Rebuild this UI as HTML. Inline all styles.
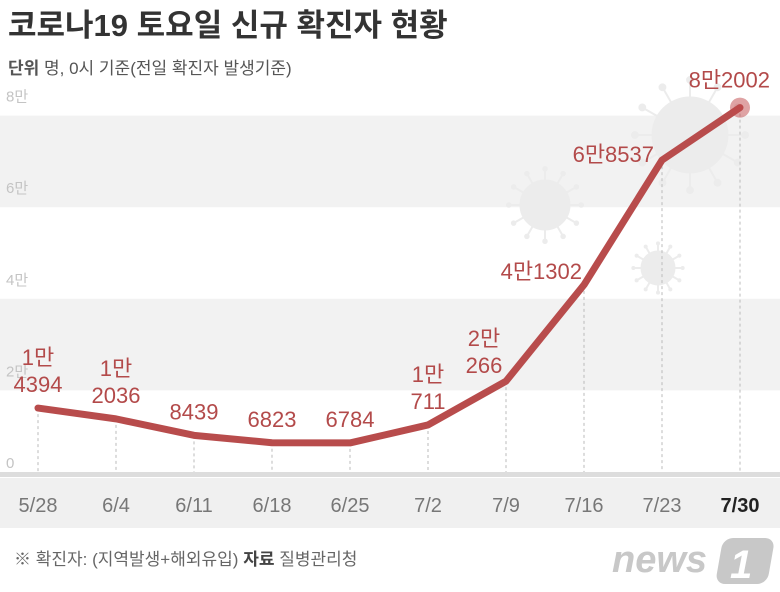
<!DOCTYPE html>
<html><head><meta charset="utf-8">
<style>
body{margin:0;background:#fff;}
svg{display:block;font-family:"Liberation Sans","Noto Sans CJK KR",sans-serif;}
</style></head><body>
<svg id="chart" width="780" height="592" viewBox="0 0 780 592">
<rect x="0" y="0" width="780" height="592" fill="#fff"/>
<text x="8" y="36" font-size="31" font-weight="bold" fill="#333">코로나19 토요일 신규 확진자 현황</text>
<text x="8" y="74" font-size="17" fill="#555"><tspan font-weight="bold">단위</tspan> 명, 0시 기준(전일 확진자 발생기준)</text>
<g id="bands"></g>
<g id="virus" fill="#ececec" stroke="#ececec"></g>
<g id="yaxis"></g>
<g id="grid"></g>
<rect x="0" y="472" width="780" height="5" fill="#ddd"/>
<rect x="0" y="478" width="780" height="50" fill="#f0f0f0"/>
<g id="xaxis"></g>
<g id="series"></g>
<text x="14" y="565" font-size="17" fill="#666">※ 확진자: (지역발생+해외유입) <tspan font-weight="bold" fill="#444">자료</tspan> 질병관리청</text>
<text x="612" y="572" font-size="38" font-weight="bold" font-style="italic" fill="#c8c8c8">news</text>
<rect x="718" y="538" width="52" height="46" rx="10" fill="#c8c8c8" transform="skewX(-10) translate(100,0)"/>
<text x="730" y="578" font-size="40" font-weight="bold" font-style="italic" fill="#fff">1</text>
</svg>
<script>
const categories=["5/28","6/4","6/11","6/18","6/25","7/2","7/9","7/16","7/23","7/30"];
const values=[14394,12036,8439,6823,6784,10711,20266,41302,68537,80002];
const valueLabels=[["1만","4394"],["1만","2036"],["8439"],["6823"],["6784"],["1만","711"],["2만","266"],["4만1302"],["6만8537"],["8만2002"]];
const yTicks=[0,20000,40000,60000,80000];
const yTickLabels=["0","2만","4만","6만","8만"];
const NS="http://www.w3.org/2000/svg";
const y=v=>474-v*91.6/20000;
const x=i=>38+i*78;
function mk(tag,attrs,parent){const e=document.createElementNS(NS,tag);for(const k in attrs)e.setAttribute(k,attrs[k]);parent.appendChild(e);return e;}
const bands=document.getElementById('bands');
[[60000,80000],[20000,40000]].forEach(b=>{
 const r=mk('rect',{x:0,y:y(b[1])+8,width:780,height:y(b[0])-y(b[1]),fill:'#f2f2f2'},bands);
 
 
});
const virus=document.getElementById('virus');
[[690,135,38],[545,205,25],[658,268,17]].forEach(v=>{
 mk('circle',{cx:v[0],cy:v[1],r:v[2]},virus);
 for(let a=0;a<12;a++){const t=a*Math.PI/6;const x1=v[0]+Math.cos(t)*v[2],y1=v[1]+Math.sin(t)*v[2],x2=v[0]+Math.cos(t)*v[2]*1.45,y2=v[1]+Math.sin(t)*v[2]*1.45;
 mk('line',{x1:x1,y1:y1,x2:x2,y2:y2,'stroke-width':2},virus);mk('circle',{cx:x2,cy:y2,r:v[2]*0.09},virus);}
});
const ya=document.getElementById('yaxis');
yTicks.forEach((t,i)=>{
 const e=mk('text',{x:6,y:y(t)-6,'font-size':15,fill:'#c4c4c4'},ya);e.textContent=yTickLabels[i];
 
 
});
const grid=document.getElementById('grid'),xa=document.getElementById('xaxis'),ser=document.getElementById('series');
categories.forEach((c,i)=>{
 const g=mk('line',{x1:x(i),x2:x(i),y1:y(values[i]),y2:474,stroke:'#bbb','stroke-dasharray':'3,3','stroke-width':1},grid);
 
 
 const last=i===categories.length-1;
 const t=mk('text',{x:x(i),y:512,'font-size':20,'text-anchor':'middle',fill:last?'#222':'#777','font-weight':last?'bold':'normal'},xa);
 t.textContent=c;
 
 
});
const pts=values.map((v,i)=>x(i)+','+y(v)).join(' ');
const line=mk('polyline',{points:pts,fill:'none',stroke:'#b84c4c','stroke-width':7,'stroke-linejoin':'round','stroke-linecap':'round'},ser);


const n=values.length-1;
const dot=mk('circle',{cx:x(n),cy:y(values[n]),r:10,fill:'#c0484a','fill-opacity':0.5},ser);


valueLabels.forEach((lb,i)=>{
 let cx=x(i),base=y(values[i])-16,anchor='middle';
 if(i===6){cx=x(i)-22;base=y(values[i])-8;}
 if(i===7){cx=x(i)-2;anchor='end';base=y(values[i])-6;}
 if(i===8){cx=x(i)-8;anchor='end';base=y(values[i])+2;}
 if(i===9){cx=x(i)+30;anchor='end';base=y(values[i])-20;}
 lb.slice().reverse().forEach((s,k)=>{
  const t=mk('text',{x:cx,y:base-k*27,'font-size':22,'text-anchor':anchor,fill:'#b34a4a'},ser);
  t.textContent=s;
  
  
 });
});
</script>
</body></html>
